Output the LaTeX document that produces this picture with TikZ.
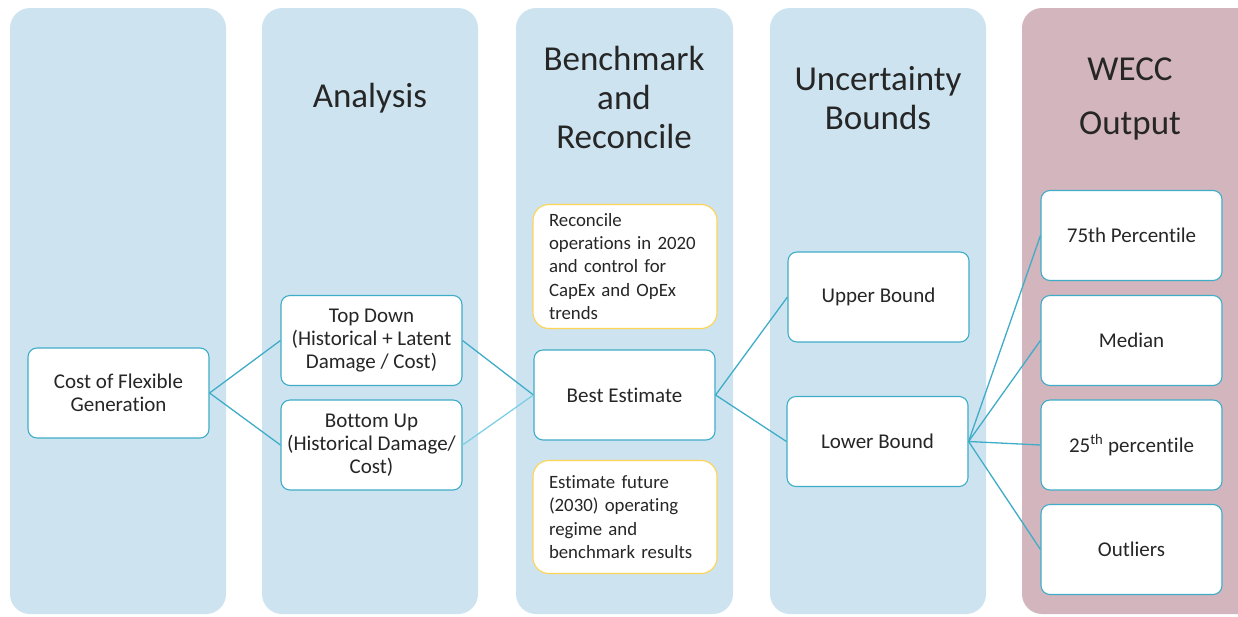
\documentclass[tikz,border=0pt]{standalone}
\usepackage{fontspec}
\setmainfont{Carlito}[Ligatures=NoCommon]
\definecolor{colblue}{HTML}{CDE4F0}
\definecolor{colpink}{HTML}{D3B5BD}
\definecolor{edgec}{HTML}{3FACC8}
\definecolor{edgelight}{HTML}{7ECFE3}
\definecolor{goldc}{HTML}{FFD453}
\definecolor{textc}{HTML}{262626}
\tikzset{
  column/.style={rounded corners=20pt},
  box/.style={draw=edgec, fill=white, rounded corners=9pt, line width=1.1pt,
    minimum width=181pt, minimum height=90pt, align=center, text=textc,
    font=\fontsize{21}{23}\selectfont, inner sep=2pt},
  note/.style={draw=goldc, fill=white, rounded corners=16pt, line width=1.1pt,
    minimum width=184pt, text width=152pt, align=left, text=textc,
    font=\fontsize{18.8}{23.3}\selectfont, inner sep=0pt},
  header/.style={align=center, text=textc, font=\fontsize{35}{39}\selectfont},
  conn/.style={draw=edgec, line width=1.3pt},
  connlight/.style={draw=edgelight, line width=1.3pt}
}
\begin{document}
\begin{tikzpicture}[x=1pt,y=-1pt]
\useasboundingbox (0,0) rectangle (1238,616);
% columns
\fill[colblue, column] (10,8) rectangle (226,614);
\fill[colblue, column] (262,8) rectangle (478,614);
\fill[colblue, column] (516,8) rectangle (733,614);
\fill[colblue, column] (770,8) rectangle (986,614);
\fill[colpink, column] (1022,8) rectangle (1260,614);
% headers
\node[header] (h2) at (370,98) {Analysis};
\node[header] (h3) at (624,97) {Benchmark\\and\\Reconcile};
\node[header] (h4) at (878,98.5) {Uncertainty\\Bounds};
\node[header, font=\fontsize{35}{54}\selectfont] (h5) at (1130,98.5) {WECC\\Output};
% nodes
\node[box] (cost) at (118.5,393) {Cost of Flexible\\Generation};
\node[box] (td) at (371.5,340.5) {Top Down\\(Historical + Latent\\Damage / Cost)};
\node[box] (bu) at (371.5,445) {Bottom Up\\(Historical Damage/\\Cost)};
\node[note, minimum height=124pt] (rec) at (625,266.5) {Reconcile\\operations in 2020\\and control for\\CapEx and OpEx\\trends};
\node[box] (best) at (624.5,395) {Best Estimate};
\node[note, minimum height=113pt] (fut) at (625,517) {Estimate future\\(2030) operating\\regime and\\benchmark results};
\node[box] (ub) at (878.5,297) {Upper Bound};
\node[box] (lb) at (877.5,441.5) {Lower Bound};
\node[box] (p75) at (1131.5,235.5) {75th Percentile};
\node[box] (med) at (1131.5,340.5) {Median};
\node[box] (p25) at (1131.5,445) {25\textsuperscript{th} percentile};
\node[box] (out) at (1131.5,549.5) {Outliers};
% connectors
\draw[conn] (cost.east) -- (td.west);
\draw[conn] (cost.east) -- (bu.west);
\draw[conn] (td.east) -- (best.west);
\draw[connlight] (bu.east) -- (best.west);
\draw[conn] (best.east) -- (ub.west);
\draw[conn] (best.east) -- (lb.west);
\draw[conn] (lb.east) -- (p75.west);
\draw[conn] (lb.east) -- (med.west);
\draw[conn] (lb.east) -- (p25.west);
\draw[conn] (lb.east) -- (out.west);
\end{tikzpicture}
\end{document}
